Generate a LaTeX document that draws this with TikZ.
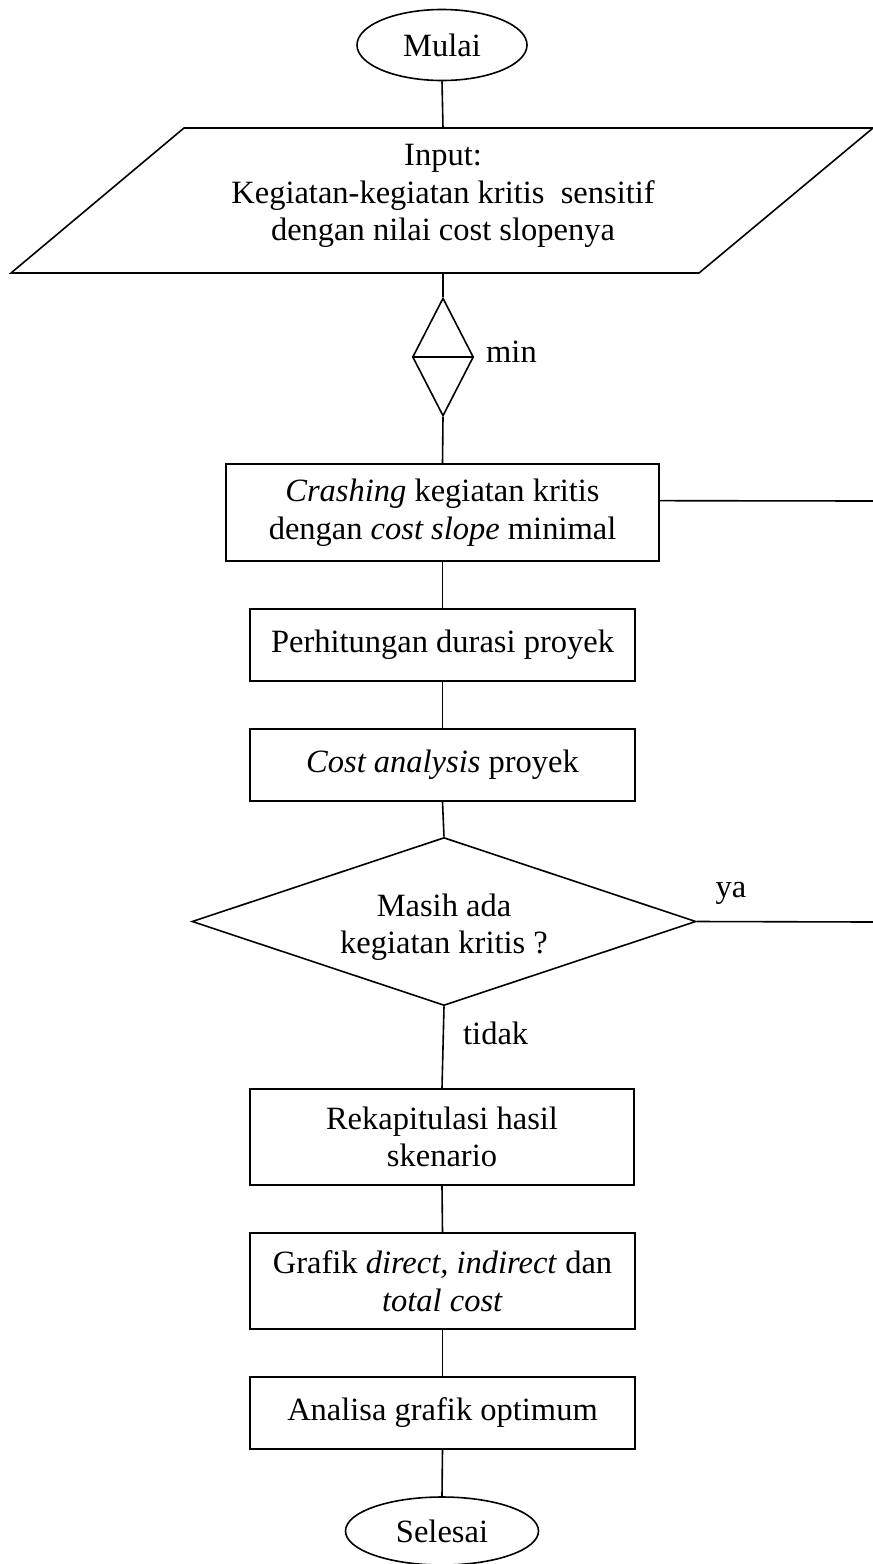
\documentclass[tikz,border=0pt]{standalone}
\usepackage{fontspec}
\setmainfont{Liberation Serif}
\usetikzlibrary{shapes.geometric,calc}

\tikzset{
  base/.style={draw=black, line width=1.6pt, inner sep=0pt, align=center,
    font=\fontsize{32.5}{37.5}\selectfont},
  terminal/.style={base, ellipse},
  procbox/.style={base, rectangle},
  decision/.style={base, diamond},
  plain/.style={inner sep=0pt, align=center, font=\fontsize{32.5}{37.5}\selectfont},
  link/.style={line width=1.6pt, line cap=butt},
}

\begin{document}
\begin{tikzpicture}[x=1pt, y=-1pt]
\useasboundingbox (0,0) rectangle (873,1564);

% start
\node[terminal, minimum width=170pt, minimum height=71pt] (mulai) at (442,45) {Mulai};

% input parallelogram
\draw[link] (184,128) -- (873,128) -- (699,273) -- (11,273) -- cycle;
\coordinate (intop) at (443,128);
\coordinate (inbot) at (443,273);
\node[plain] (input) at (443,196) {Input:\\Kegiatan-kegiatan kritis~ sensitif\\dengan nilai cost slopenya};

% selection of minimum cost slope
\node[decision, minimum width=61pt, minimum height=118pt] (mind) at (443,357) {};
\draw[link] (mind.west) -- (mind.east);
\node[plain, anchor=west] (minlbl) at (486,352) {min};

% process steps
\node[procbox, minimum width=433pt, minimum height=97pt] (crash) at (442.5,512.5)
  {\textit{Crashing} kegiatan kritis\\dengan \textit{cost slope} minimal};
\node[procbox, minimum width=385pt, minimum height=72pt] (perhit) at (442.5,645)
  {Perhitungan durasi proyek};
\node[procbox, minimum width=385pt, minimum height=72pt] (cost) at (442.5,765)
  {\textit{Cost analysis} proyek};

% check for remaining critical activities
\node[decision, minimum width=504pt, minimum height=168pt] (dec) at (444,921.5) {};
\node[plain] (dectext) at (444,927) {Masih ada\\kegiatan kritis ?};
\node[plain] (yalbl) at (731,893) {ya};
\node[plain, anchor=west] (tidaklbl) at (463,1033) {tidak};

% summary steps
\node[procbox, minimum width=384pt, minimum height=96pt] (rekap) at (442,1137)
  {Rekapitulasi hasil\\skenario};
\node[procbox, minimum width=385pt, minimum height=96pt] (grafik) at (442.5,1281)
  {Grafik \textit{direct, indirect} dan\\\textit{total cost}};
\node[procbox, minimum width=385pt, minimum height=72pt] (analisa) at (442.5,1413)
  {Analisa grafik optimum};

% end
\node[terminal, minimum width=193pt, minimum height=68pt] (selesai) at (442,1531) {Selesai};

% loop-back ends running off to the right
\coordinate (loopa) at (873,501);
\coordinate (loopb) at (873,922);

% connectors
\draw[link] (mulai.south) -- (intop);
\draw[link] (inbot) -- (mind.north);
\draw[link] (mind.south) -- (crash.north);
\draw[link] (crash.south) -- (perhit.north);
\draw[link] (perhit.south) -- (cost.north);
\draw[link] (cost.south) -- (dec.north);
\draw[link] (dec.south) -- (rekap.north);
\draw[link] (rekap.south) -- (grafik.north);
\draw[link] (grafik.south) -- (analisa.north);
\draw[link] (analisa.south) -- (selesai.north);
\draw[link] ($(crash.north east)!0.38!(crash.south east)$) -- (loopa);
\draw[link] (dec.east) -- (loopb);
\end{tikzpicture}
\end{document}
